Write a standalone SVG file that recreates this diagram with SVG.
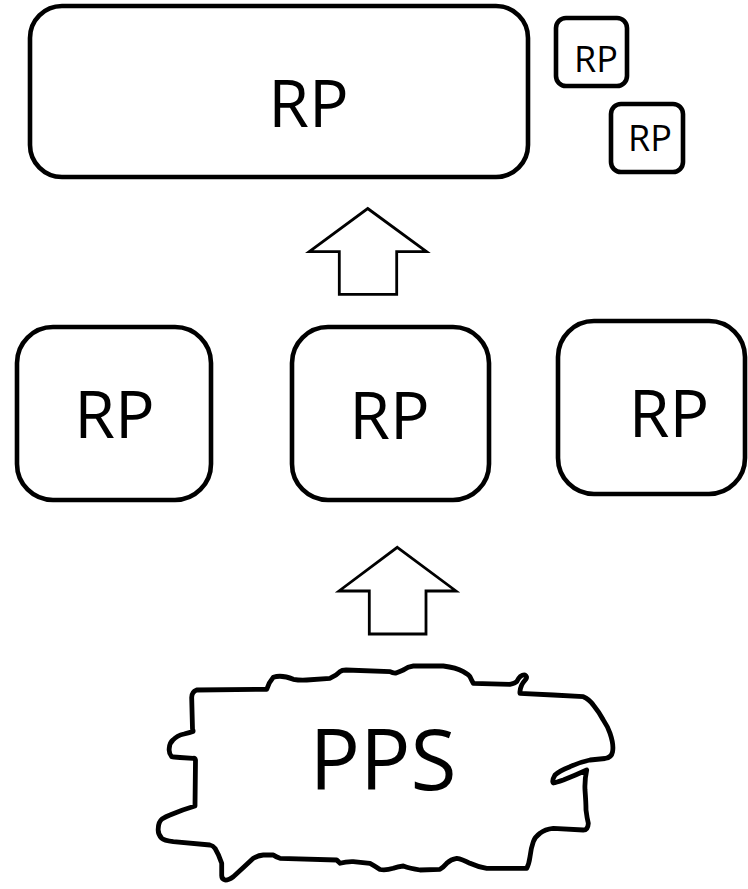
<svg xmlns="http://www.w3.org/2000/svg" width="748" height="889" viewBox="0 0 748 889">
  <style>
    .box { fill: #ffffff; stroke: #000000; stroke-width: 4.6; }
    .arrow { fill: #ffffff; stroke: #000000; stroke-width: 2.8; stroke-linejoin: miter; }
    .blob { fill: #ffffff; stroke: #000000; stroke-width: 4.8; stroke-linejoin: round; stroke-linecap: round; }
    .lbl { font-family: "Open Sans", "Noto Sans", sans-serif; fill: #000000; text-anchor: middle; }
  </style>
  <rect width="748" height="889" fill="#ffffff"/>

  <!-- top: wide RP box and two small RP boxes -->
  <g id="rp-top">
    <rect class="box" x="30" y="6" width="498" height="171" rx="32" ry="32"/>
    <text class="lbl" x="308.5" y="127" font-size="66">RP</text>
  </g>
  <g id="rp-small-1">
    <rect class="box" x="556" y="18" width="71" height="68" rx="10" ry="10"/>
    <text class="lbl" x="596" y="72" font-size="36">RP</text>
  </g>
  <g id="rp-small-2">
    <rect class="box" x="611" y="104" width="72" height="68" rx="10" ry="10"/>
    <text class="lbl" x="650" y="151" font-size="36">RP</text>
  </g>

  <!-- middle row of RP boxes -->
  <g id="rp-mid-1">
    <rect class="box" x="17" y="327" width="194" height="173" rx="36" ry="36"/>
    <text class="lbl" x="114.5" y="438" font-size="66">RP</text>
  </g>
  <g id="rp-mid-2">
    <rect class="box" x="292" y="327" width="197" height="173" rx="36" ry="36"/>
    <text class="lbl" x="389.5" y="439" font-size="66">RP</text>
  </g>
  <g id="rp-mid-3">
    <rect class="box" x="558" y="321" width="187" height="173" rx="36" ry="36"/>
    <text class="lbl" x="669" y="437" font-size="66">RP</text>
  </g>

  <!-- hand-drawn PPS outline -->
  <g id="pps">
    <path class="blob" d="M 196.7 690
      L 266.7 689.3 Q 268.5 683 273.3 677.3 Q 281.7 674.5 293.3 679.3 Q 300 680.5 306.7 680 L 330 678.3 Q 336 676 340 671.7 Q 342 670 346 670
      L 390 671.7 Q 393 673.3 396 673 Q 400 671.5 403.3 670 Q 408 666.5 413.3 666 L 443.3 666 Q 456 667.5 463.3 671.7 Q 469 675 470 676.7 Q 472 681 473.3 683.3
      L 510 684.3 Q 515 683.5 516.7 681.7 Q 518.5 678 520 676.7 Q 523 674.5 525 675 Q 527.5 676.5 526 679 Q 523 682.5 521.7 685 Q 519.5 690 520 693.3
      L 553.3 695 L 583.3 696.7 Q 589 699 593.3 705 Q 599 712 603.3 720 Q 608 727 610 733.3 Q 614 745 612.5 752 Q 611.5 757.5 605 758.5
      L 590 760 Q 580 762 570 766.7 Q 559 771 555 775 Q 551.5 781 553.3 783 Q 556 782.5 563.3 780 Q 576 775 586.7 770
      Q 584.5 780 585 790 Q 586 803 586 810 Q 587 818 588.3 823.3 Q 588 830 583.3 830 L 553.3 828.3 Q 545 829 540 833.3 Q 535 837 533.3 841.7 Q 531 848 530 856.7 Q 529 864 526.7 868.3
      L 486.7 868.3 Q 478 867 470 863.3 Q 462 859 456.7 858.3 Q 451 859 446.7 863.3 Q 443 867.5 440 869.3 L 420 870 Q 410 868.5 403.3 866 Q 398 866.5 393.3 868.3 Q 386 870.5 380 869.5
      Q 375 866 370 863.3 L 353.3 861.7 Q 346 861.5 340 863.3 Q 338 861 336.7 860 L 280 858.3 Q 276 857 273.3 855 L 263.3 855 Q 258 855.5 253.3 858.3 Q 243 868 233.3 876.7 Q 228 880.5 225 880 Q 221.5 879 221.7 875 L 221.7 863.3 Q 219 855 215 848.3 Q 213 845.5 210 845 L 173.3 841.7 Q 164 840.5 161.7 838.3 Q 157.5 834 158.3 828 Q 158.5 822 162 819 Q 166 816.5 170 815 Q 183 809.5 195 806
      L 195.5 760 Q 195 758 193.3 758.3 L 180 757.5 Q 173 757 171.7 756.7 Q 168.5 753 169.3 748 Q 169.8 742.5 173 740 Q 177 735.5 184 734 Q 190 732.5 193 731.5
      Q 193.5 731 192.5 729 L 191.7 698 Q 191.5 692 196.7 690 Z"/>
    <text class="lbl" x="383" y="790" font-size="84">PPS</text>
  </g>

  <!-- block arrows -->
  <g id="connectors">
    <polygon class="arrow" points="367.7,208.5 426.5,251.7 396.7,251.7 396.7,294.3 339.3,294.3 339.3,251.7 309.3,251.7"/>
    <polygon class="arrow" points="397.3,547.3 456,591 426,591 426,634 369.3,634 369.3,591 339,591"/>
  </g>
</svg>
